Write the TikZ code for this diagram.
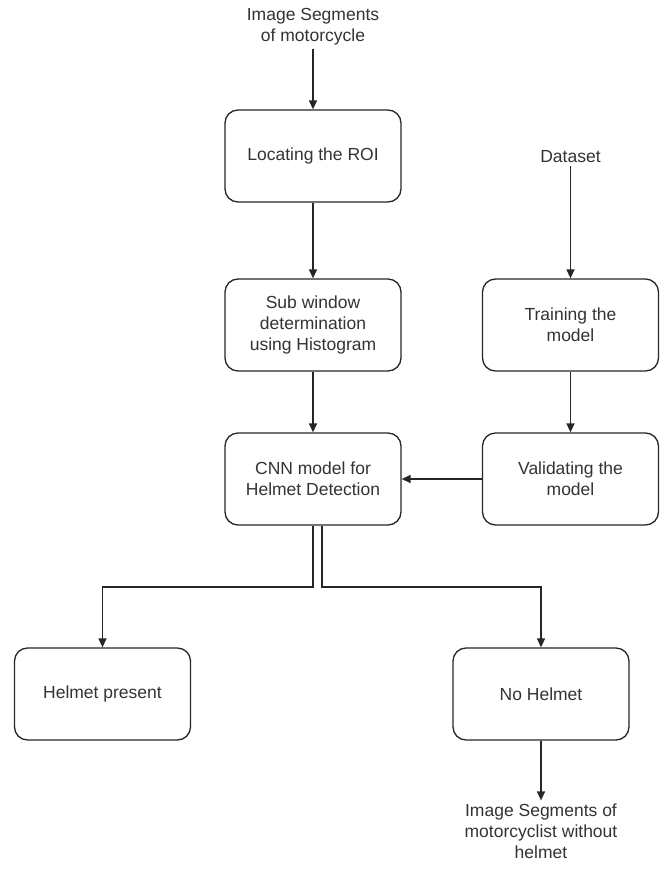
\documentclass[tikz,border=0pt]{standalone}
\usepackage{fontspec}
\setmainfont{Liberation Sans}
\usetikzlibrary{arrows.meta}
\begin{document}
\begin{tikzpicture}[x=1pt,y=-1pt,
  font=\fontsize{17.5}{21}\selectfont,
  box/.style={draw=black!85, line width=1.3pt, rounded corners=13pt, minimum width=176pt, minimum height=92pt, align=center, text=black!80, inner sep=2pt},
  lbl/.style={align=center, text=black!80, inner sep=3pt},
  arr/.style={draw=black!85, line width=1.3pt, -{Triangle[length=9pt,width=8pt]}}]
\useasboundingbox (0,0) rectangle (665,870);
\node[lbl] (src) at (313,27) {Image Segments\\of motorcycle};
\node[box] (roi) at (313,156) {Locating the ROI};
\node[box] (sub) at (313,325) {Sub window\\determination\\using Histogram};
\node[box] (cnn) at (313,479) {CNN model for\\Helmet Detection};
\node[lbl] (ds) at (570.5,157) {Dataset};
\node[box] (train) at (570.5,325) {Training the\\model};
\node[box] (valid) at (570.5,479) {Validating the\\model};
\node[box] (hp) at (102.5,694) {Helmet present};
\node[box] (nh) at (541,694) {No Helmet};
\node[lbl] (out) at (541,831) {Image Segments of\\motorcyclist without\\helmet};
\coordinate (brB) at (313,587);
\coordinate (brC) at (322,587);
\draw[arr] (src.south) -- (roi.north);
\draw[arr] (roi.south) -- (sub.north);
\draw[arr] (sub.south) -- (cnn.north);
\draw[arr] (ds.south) -- (train.north);
\draw[arr] (train.south) -- (valid.north);
\draw[arr] (valid.west) -- (cnn.east);
\draw[arr] (cnn.south -| brB) -- (brB) -| (hp.north);
\draw[arr] (cnn.south -| brC) -- (brC) -| (nh.north);
\draw[arr] (nh.south) -- (out.north);
\end{tikzpicture}
\end{document}
